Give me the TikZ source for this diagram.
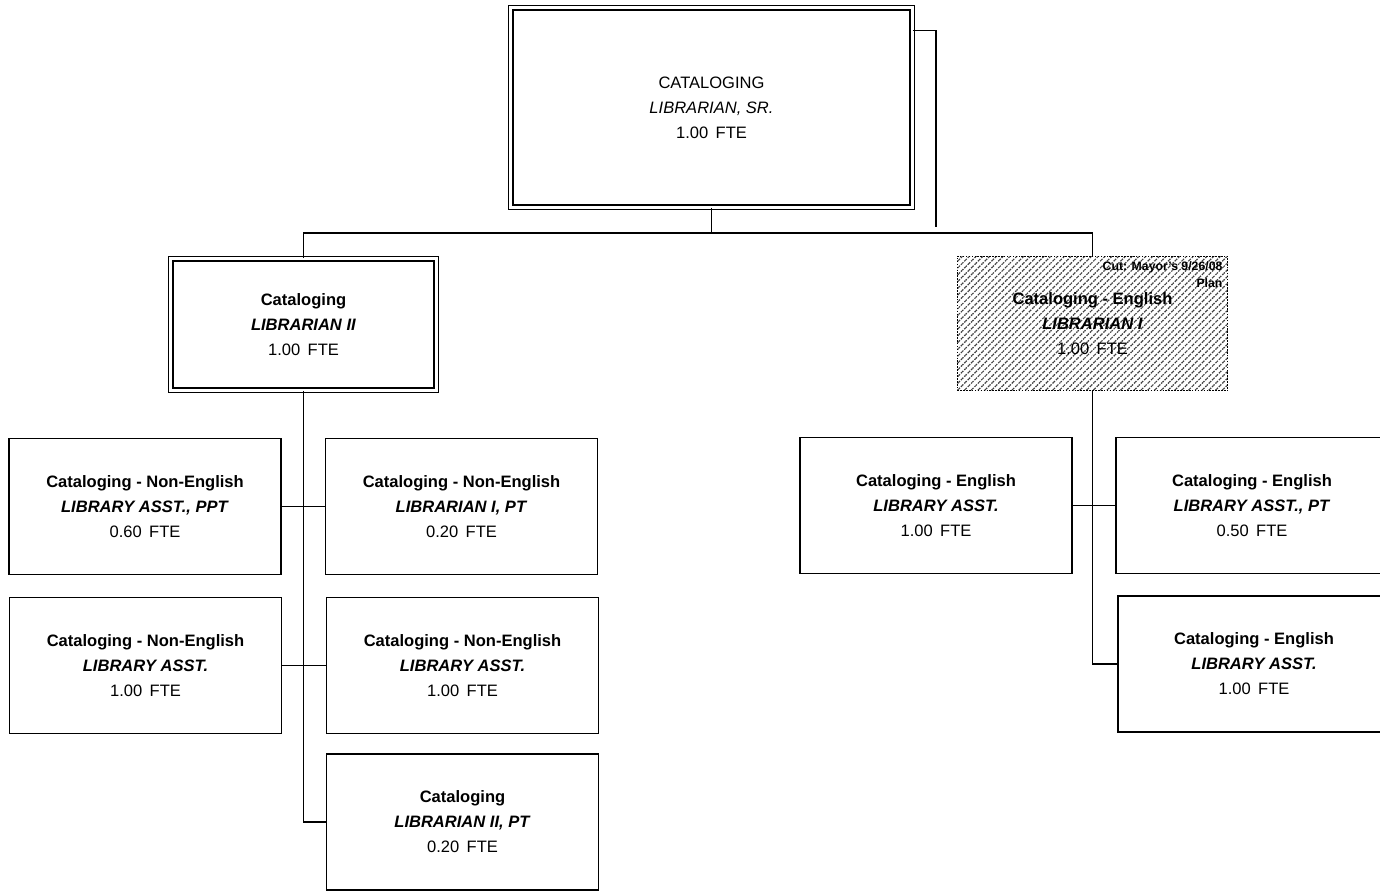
\documentclass[tikz,border=0pt]{standalone}
\usepackage{fontspec}
\setmainfont{Liberation Sans}
\usetikzlibrary{patterns.meta}
\newcommand{\role}[3]{\textbf{#1}\\\textbf{\textit{#2}}\\#3\hspace{0.45em}FTE}

\begin{document}
\begin{tikzpicture}[x=0.75pt,y=-0.75pt,line width=0.9pt,
  every node/.style={font=\fontsize{12.4}{18.7}\selectfont,align=center,inner sep=0pt},
  job/.style={draw,line width=1pt,minimum width=204pt,minimum height=102pt},
  lead/.style={draw,double,double distance=2.4pt,line width=1pt,minimum width=199pt,minimum height=98.5pt},
  gone/.style={draw,line width=0.8pt,dash pattern=on 1.2pt off 1pt,minimum width=203pt,minimum height=101pt,
    pattern={Lines[angle=45,distance=3.6pt,line width=0.9pt]},pattern color=black!75}]
  \useasboundingbox (0,0) rectangle (1380,893);
  \node[lead,minimum width=301pt,minimum height=149.5pt] (top) at (711.5,107.5) {CATALOGING\\\textit{LIBRARIAN, SR.}\\1.00\hspace{0.45em}FTE};
  \node[lead] (lib2) at (303.5,324.5) {\textbf{Cataloging}\\\textbf{\textit{LIBRARIAN II}}\\1.00\hspace{0.45em}FTE};
  \node[gone] (eng) at (1092.5,323.5) {\role{Cataloging - English}{LIBRARIAN I}{1.00}};
  \node[font=\fontsize{9.2}{12.8}\selectfont\bfseries,align=right,anchor=north east] (cut) at (1223,261) {Cut: Mayor's 9/26/08\\Plan};
  % non-English side
  \node[job] (n1) at (145,506.5) {\role{Cataloging - Non-English}{LIBRARY ASST., PPT}{0.60}};
  \node[job] (n2) at (145.5,665.5) {\role{Cataloging - Non-English}{LIBRARY ASST.}{1.00}};
  \node[job] (n3) at (461.5,506.5) {\role{Cataloging - Non-English}{LIBRARIAN I, PT}{0.20}};
  \node[job] (n4) at (462.5,665.5) {\role{Cataloging - Non-English}{LIBRARY ASST.}{1.00}};
  \node[job] (n5) at (462.5,822) {\role{Cataloging}{LIBRARIAN II, PT}{0.20}};
  % English side
  \node[job] (e1) at (936,505.5) {\role{Cataloging - English}{LIBRARY ASST.}{1.00}};
  \node[job] (e2) at (1252,505.5) {\role{Cataloging - English}{LIBRARY ASST., PT}{0.50}};
  \node[job] (e3) at (1254,664) {\role{Cataloging - English}{LIBRARY ASST.}{1.00}};
  \coordinate (bus) at (711.5,233);
  \coordinate (brk) at (936,227);
  \draw (top) -- (bus);
  \draw (lib2.north) |- (bus) -| (eng.north);
  \draw (top.north east) ++(0,23) -| (brk);
  \draw (lib2.south) |- (n5.west);
  \draw (n1.east) -- (n3.west);
  \draw (n2.east) -- (n4.west);
  \draw (eng.south) |- (e3.west);
  \draw (e1.east) -- (e2.west);
\end{tikzpicture}
\end{document}
